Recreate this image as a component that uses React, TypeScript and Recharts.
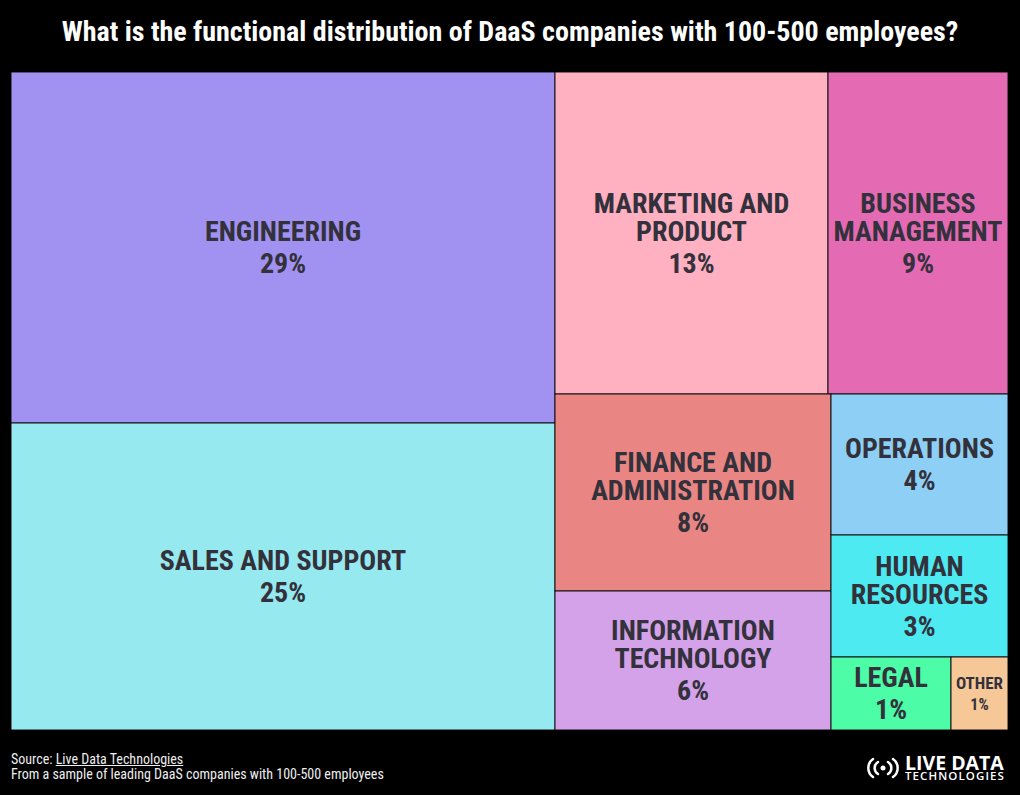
import React from 'react';
import { Treemap } from 'recharts';

const names = [
  'ENGINEERING',
  'SALES AND SUPPORT',
  'MARKETING AND|PRODUCT',
  'BUSINESS|MANAGEMENT',
  'FINANCE AND|ADMINISTRATION',
  'INFORMATION|TECHNOLOGY',
  'OPERATIONS',
  'HUMAN|RESOURCES',
  'LEGAL',
  'OTHER',
];
const shares = [29.1, 25.4, 13.4, 8.8, 8.3, 5.8, 3.8, 3.3, 1.33, 0.67];
const colors = [
  '#a192f2', '#96e9ef', '#ffb0c1', '#e46ab4', '#e98683',
  '#d4a2e8', '#8ed0f5', '#4deaf1', '#4cfca6', '#f6c897',
];

const data = names.map((name, i) => ({ name, size: shares[i], color: colors[i] }));

const FONT = "'Roboto Condensed', 'Liberation Sans Narrow', 'DejaVu Sans Condensed', Roboto, sans-serif";

function Cell(props: any) {
  const { x, y, width, height, depth, name, color, size } = props;
  if (depth !== 1) return null;
  const small = width < 80;
  const fs = small ? 17 : 28;
  const lh = small ? 20 : 28;
  const gap = small ? 21 : 32;
  const lines: string[] = String(name).split('|');
  const total = (lines.length - 1) * lh + gap;
  const top = y + height / 2 - total / 2;
  const cx = x + width / 2;
  return (
    <g>
      <rect x={x} y={y} width={width} height={height} fill={color} stroke="#111" strokeWidth={1} />
      {lines.map((l, i) => (
        <text key={i} x={cx} y={top + i * lh} textAnchor="middle" dominantBaseline="central"
          fontFamily={FONT} fontWeight={700} fontSize={fs} fill="#33313b">
          {l}
        </text>
      ))}
      <text x={cx} y={top + total} textAnchor="middle" dominantBaseline="central"
        fontFamily={FONT} fontWeight={700} fontSize={small ? 16 : 28} fill="#33313b">
        {Math.round(size)}%
      </text>
    </g>
  );
}

export default function App() {
  return (
    <div style={{ position: 'absolute', left: 0, top: 0, width: 1020, height: 795, background: '#000', fontFamily: FONT }}>
      <div style={{ position: 'absolute', left: 0, top: 15, width: 1020, textAlign: 'center', color: '#fff', fontWeight: 700, fontSize: 28 }}>
        What is the functional distribution of DaaS companies with 100-500 employees?
      </div>
      <div style={{ position: 'absolute', left: 11, top: 72 }}>
        <Treemap
          width={997}
          height={658}
          data={data}
          dataKey="size"
          aspectRatio={1}
          isAnimationActive={false}
          content={(p: any) => <Cell {...p} />}
        />
      </div>
      <div style={{ position: 'absolute', left: 11, top: 752, color: '#eee', fontSize: 14, lineHeight: '15px' }}>
        <div>Source: <span style={{ textDecoration: 'underline' }}>Live Data Technologies</span></div>
        <div>From a sample of leading DaaS companies with 100-500 employees</div>
      </div>
      <svg style={{ position: 'absolute', left: 860, top: 750 }} width={160} height={36}>
        <g fill="none" stroke="#fff" strokeWidth={2.5} strokeLinecap="round">
          <path d="M13 9 A11 11 0 0 0 13 27" />
          <path d="M18 12 A7 7 0 0 0 18 24" />
          <path d="M28 12 A7 7 0 0 1 28 24" />
          <path d="M33 9 A11 11 0 0 1 33 27" />
        </g>
        <circle cx={23} cy={18} r={2.5} fill="#fff" />
        <text x={45} y={20} fill="#fff" fontFamily="'Open Sans', sans-serif" fontWeight={700} fontSize={19.5}>LIVE DATA</text>
        <text x={45} y={30} fill="#fff" fontFamily="'Open Sans', sans-serif" fontWeight={600} fontSize={11.5} letterSpacing={1.1}>TECHNOLOGIES</text>
      </svg>
    </div>
  );
}
